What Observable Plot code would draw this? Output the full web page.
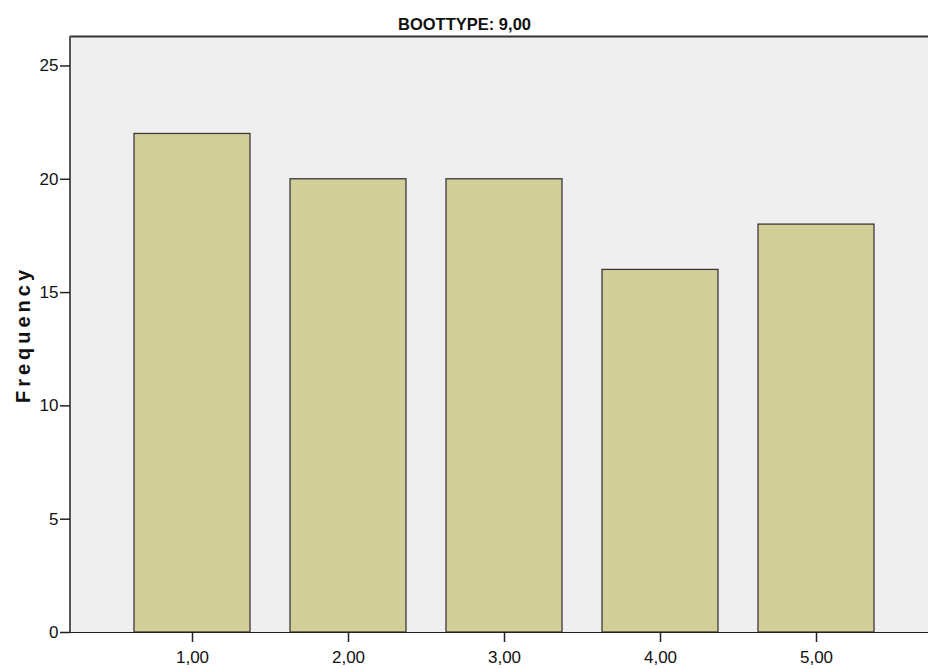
<!DOCTYPE html>
<html>
<head>
<meta charset="utf-8">
<script src="https://cdn.jsdelivr.net/npm/d3@7"></script>
<script src="https://cdn.jsdelivr.net/npm/@observablehq/plot@0.6"></script>
<style>
  html, body { margin: 0; padding: 0; background: #ffffff; }
  #chart svg { display: block; }
</style>
</head>
<body>
<div id="chart"></div>
<script>
const categories = ["1,00", "2,00", "3,00", "4,00", "5,00"];
const frequencies = [22, 20, 20, 16, 18];
const yTicks = [0, 5, 10, 15, 20, 25];
const title = "BOOTTYPE: 9,00";
const yLabel = "Frequency";

const data = categories.map((c, i) => ({cat: c, freq: frequencies[i]}));
const yMax = 26.3;
const sans = "'Liberation Sans', Arial, sans-serif";

// left border of the plot area, drawn from the frame dimensions
function leftBorder(index, scales, values, dimensions) {
  const {marginLeft, marginTop, height, marginBottom} = dimensions;
  const g = d3.create("svg:g");
  g.append("line")
    .attr("x1", marginLeft).attr("x2", marginLeft)
    .attr("y1", marginTop).attr("y2", height - marginBottom)
    .attr("stroke", "#555").attr("stroke-width", 2);
  return g.node();
}

const chart = Plot.plot({
  width: 928,
  height: 669,
  marginLeft: 70,
  marginRight: 0,
  marginTop: 36,
  marginBottom: 37,
  style: {fontFamily: sans, fontSize: "17px", color: "#111", background: "#ffffff"},
  x: {type: "band", domain: categories, range: [70, 938], paddingInner: 0.256, paddingOuter: 0.41, align: 0.5},
  y: {domain: [0, yMax]},
  marks: [
    Plot.frame({fill: "#efefef", stroke: "none"}),
    Plot.barY(data, {x: "cat", y: "freq", fill: "#d3cf98", stroke: "#3a3a3a", strokeWidth: 1.3}),
    Plot.ruleY([yMax], {stroke: "#333", strokeWidth: 2}),
    Plot.ruleY([0], {stroke: "#222", strokeWidth: 1.2}),
    leftBorder,
    Plot.axisY({ticks: yTicks, tickSize: 10, tickPadding: 2, label: null, stroke: "#222", strokeWidth: 1.5, fontSize: 17}),
    Plot.axisX({tickSize: 10, tickPadding: 8, label: null, stroke: "#222", strokeWidth: 1.5, fontSize: 17}),
    Plot.text([yLabel], {frameAnchor: "left", textAnchor: "middle", rotate: -90, dx: -47, fontWeight: "bold", fontSize: 20, fill: "#111"}),
    Plot.text([title], {frameAnchor: "top", dx: -35, dy: -18, fontWeight: "bold", fontSize: 16.5, fill: "#111"})
  ]
});
d3.select(chart).selectAll("text").filter(function() { return this.textContent === yLabel; })
  .style("letter-spacing", "4px");
document.getElementById("chart").appendChild(chart);
</script>
</body>
</html>
